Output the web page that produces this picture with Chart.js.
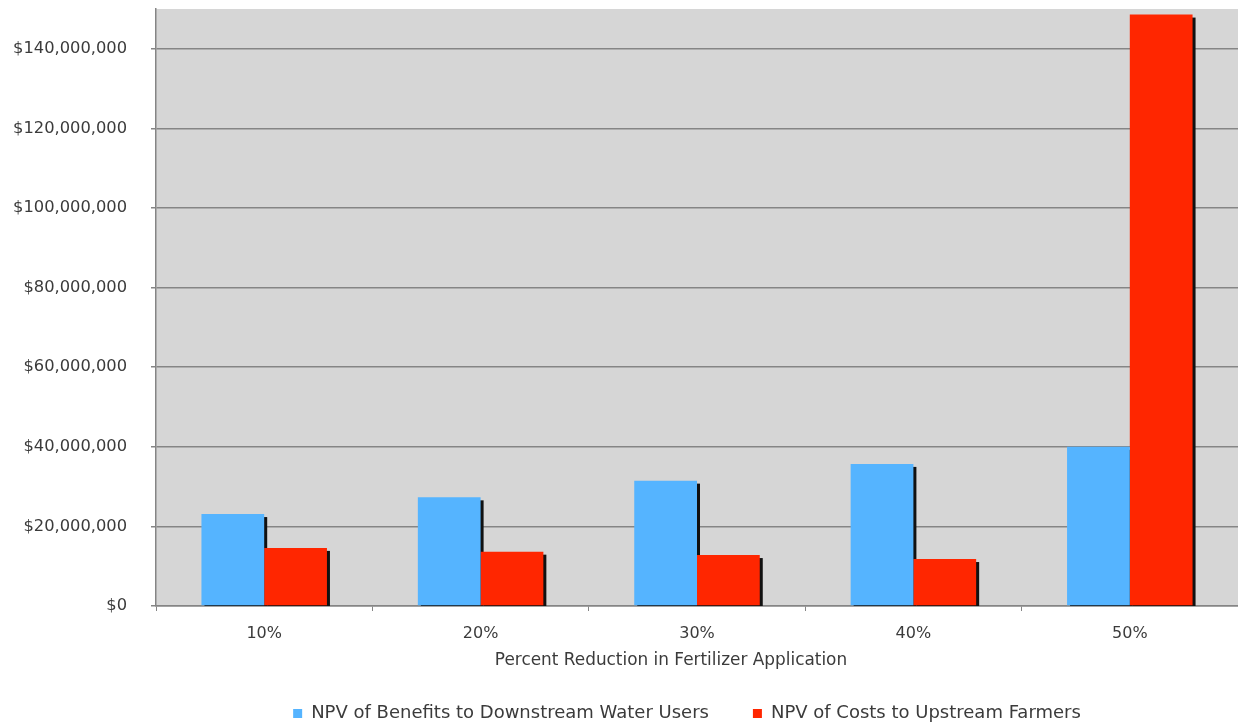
<!DOCTYPE html>
<html>
<head>
<meta charset="utf-8">
<script src="https://cdn.jsdelivr.net/npm/chart.js@4.4.1/dist/chart.umd.min.js"></script>
<style>
  html, body { margin: 0; padding: 0; background: #ffffff; }
  #wrap { width: 1238px; height: 724px; }
</style>
</head>
<body>
<div id="wrap"><canvas id="c" width="1238" height="724"></canvas></div>
<script>
// Percent reduction scenarios and net present values (USD)
const categories = ['10%', '20%', '30%', '40%', '50%'];
const benefitsDownstream = [23100000, 27300000, 31500000, 35700000, 40000000];
const costsUpstream = [14600000, 13650000, 12800000, 11800000, 148600000];
const yTickValues = [0, 20000000, 40000000, 60000000, 80000000, 100000000, 120000000, 140000000];
const seriesNames = ['NPV of Benefits to Downstream Water Users', 'NPV of Costs to Upstream Farmers'];
const axisTitle = 'Percent Reduction in Fertilizer Application';

const FONT = '"DejaVu Sans", Verdana, sans-serif';
const TEXT = '#3b3b3b';
const GRID = '#858585';
const LEGEND_GAP = 44;

// Gray plot background
const plotBackground = {
  id: 'plotBackground',
  beforeDraw(chart) {
    const a = chart.chartArea, ctx = chart.ctx;
    ctx.save();
    ctx.fillStyle = '#d6d6d6';
    ctx.fillRect(a.left, a.top, a.right - a.left, a.bottom - a.top);
    ctx.restore();
  }
};

// Hard black shadow behind each bar, offset down and to the right
const barShadow = {
  id: 'barShadow',
  beforeDatasetsDraw(chart) {
    const a = chart.chartArea, ctx = chart.ctx;
    ctx.save();
    ctx.beginPath();
    ctx.rect(a.left, a.top, a.right - a.left, a.bottom - a.top);
    ctx.clip();
    ctx.fillStyle = '#111111';
    chart.data.datasets.forEach((ds, i) => {
      chart.getDatasetMeta(i).data.forEach(bar => {
        const left = bar.x - bar.width / 2;
        ctx.fillRect(left + 3, bar.y + 3, bar.width, bar.base - bar.y);
      });
    });
    ctx.restore();
  }
};

// Horizontal axis title under the category labels; legend row nudged into place
const xTitle = {
  id: 'xTitle',
  afterLayout(chart) {
    const lg = chart.legend;
    const rowCenter = lg.top + LEGEND_GAP + 10.5;
    const dy = 715 - rowCenter;
    lg.left -= 10; lg.right -= 10;
    lg.top += dy; lg.bottom += dy;
  },
  afterDraw(chart) {
    const ctx = chart.ctx;
    ctx.save();
    ctx.font = '16.9px ' + FONT;
    ctx.fillStyle = TEXT;
    ctx.textAlign = 'center';
    ctx.textBaseline = 'middle';
    ctx.fillText(axisTitle, 671, 661);
    ctx.restore();
  }
};

const money = v => '$' + v.toLocaleString('en-US');

new Chart(document.getElementById('c'), {
  type: 'bar',
  data: {
    labels: categories,
    datasets: [
      { label: seriesNames[0], data: benefitsDownstream, backgroundColor: '#55b4ff' },
      { label: seriesNames[1], data: costsUpstream, backgroundColor: '#ff2600' }
    ]
  },
  options: {
    responsive: false,
    animation: false,
    devicePixelRatio: 1,
    layout: { padding: { top: 9, right: 0, left: 0, bottom: 0 } },
    datasets: {
      bar: { categoryPercentage: 0.58, barPercentage: 1.0, borderWidth: 0 }
    },
    scales: {
      x: {
        offset: true,
        grid: { display: true, drawOnChartArea: false, offset: true, tickLength: 5, color: GRID, lineWidth: 1 },
        border: { display: true, color: GRID, width: 1.5 },
        ticks: { color: TEXT, font: { family: FONT, size: 16 }, padding: 13 },
        afterFit(s) { s.height = 46; s.paddingTop = 0; s.paddingBottom = 0; }
      },
      y: {
        min: 0,
        max: 150000000,
        afterFit(s) { s.width = 156; s.paddingTop = 0; s.paddingBottom = 0; },
        afterBuildTicks(s) { s.ticks = yTickValues.map(v => ({ value: v })); },
        grid: { color: GRID, lineWidth: 1.5, tickLength: 5 },
        border: { display: true, color: GRID, width: 1.5 },
        ticks: {
          color: TEXT,
          font: { family: FONT, size: 16.3 },
          padding: 24,
          callback: v => money(v)
        }
      }
    },
    plugins: {
      legend: {
        position: 'bottom',
        fullSize: false,
        labels: {
          color: TEXT,
          font: { family: FONT, size: 18 },
          boxWidth: 9,
          boxHeight: 9,
          padding: LEGEND_GAP
        }
      },
      tooltip: { enabled: false }
    }
  },
  plugins: [plotBackground, barShadow, xTitle]
});
</script>
</body>
</html>
